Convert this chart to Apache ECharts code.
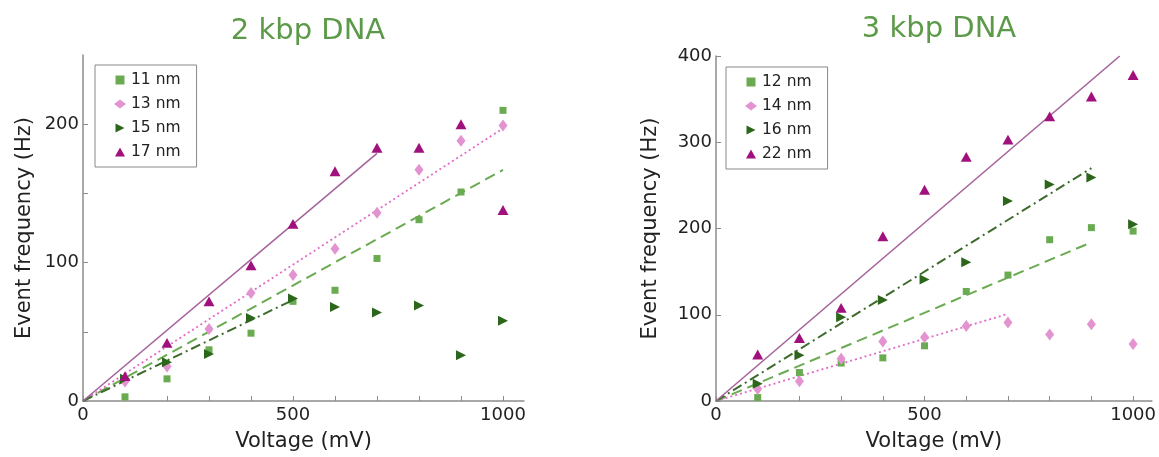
<!DOCTYPE html>
<html>
<head>
<meta charset="utf-8">
<script src="https://cdn.jsdelivr.net/npm/echarts@6/dist/echarts.min.js"></script>
<style>
html,body{margin:0;padding:0;background:#fff;}
#chart{width:1159px;height:457px;}
</style>
</head>
<body>
<div id="chart"></div>
<script>
// ---- Data ----
const voltages = [100, 200, 300, 400, 500, 600, 700, 800, 900, 1000];

// 2 kbp DNA
const kbp2_11nm = [3, 16, 37, 49, 72, 80, 103, 131, 151, 210];
const kbp2_13nm = [14, 25, 52, 78, 91, 110, 136, 167, 188, 199];
const kbp2_15nm = [16, 28, 34, 60, 74, 68, 64, 69, 33, 58];
const kbp2_17nm = [18, 42, 72, 98, 128, 166, 183, 183, 200, 138];
// fitted lines from origin
const kbp2_fit_11nm = [[0, 0], [1000, 167]];
const kbp2_fit_13nm = [[0, 0], [1000, 197]];
const kbp2_fit_15nm = [[0, 0], [500, 73]];
const kbp2_fit_17nm = [[0, 0], [700, 179]];

// 3 kbp DNA
const kbp3_12nm = [4, 33, 44, 50, 64, 127, 146, 187, 201, 197];
const kbp3_14nm = [14, 23, 49, 69, 74, 87, 91, 77, 89, 66];
const kbp3_16nm = [20, 53, 97, 117, 141, 161, 232, 251, 259, 205];
const kbp3_22nm = [54, 73, 108, 191, 245, 283, 303, 330, 353, 378];
const kbp3_fit_12nm = [[0, 0], [900, 184]];
const kbp3_fit_14nm = [[0, 0], [700, 101]];
const kbp3_fit_16nm = [[0, 0], [900, 270]];
const kbp3_fit_22nm = [[0, 0], [968, 400]];

const titles = ['2 kbp DNA', '3 kbp DNA'];
const legend2 = ['11 nm', '13 nm', '15 nm', '17 nm'];
const legend3 = ['12 nm', '14 nm', '16 nm', '22 nm'];
const xLabelTicks = [0, 500, 1000];
const xMinorTicks = [0, 100, 200, 300, 400, 500, 600, 700, 800, 900, 1000];
const y2LabelTicks = [0, 100, 200];
const y2Ticks = [0, 50, 100, 150, 200];
const y3Ticks = [0, 100, 200, 300, 400];

// ---- Styles ----
const C_SQ = '#6aab52';
const C_DI = '#e393d0';
const C_RT = '#2b661b';
const C_TR = '#a1117d';
const C_SOLID = '#a5639c';
const C_DOT = '#e06cc6';
const C_DASH = '#6aab52';
const C_DASHDOT = '#3c6b2c';
const RIGHT_TRI = 'path://M0,0 L10,5 L0,10 Z';
const UP_TRI = 'path://M5,0 L10,9 L0,9 Z';

const pts = arr => arr.map((v, i) => [voltages[i], v]);
const plain = v => String(v);

function xAxis(gridIndex, max) {
  return {
    type: 'value', gridIndex, min: 0, max,
    name: 'Voltage (mV)', nameLocation: 'middle', nameGap: 30,
    nameTextStyle: {fontFamily: 'DejaVu Sans', fontSize: 21, color: '#222'},
    axisLine: {show: true, lineStyle: {color: '#8c8c8c', width: 1.5}},
    axisTick: {show: true, inside: true, length: 5, customValues: xMinorTicks, lineStyle: {color: '#8c8c8c'}},
    axisLabel: {customValues: xLabelTicks, formatter: plain, fontFamily: 'DejaVu Sans', fontSize: 18, color: '#222', margin: 5},
    splitLine: {show: false}
  };
}
function yAxis(gridIndex, max, ticks, labels, gap) {
  return {
    type: 'value', gridIndex, min: 0, max,
    name: 'Event frequency (Hz)', nameLocation: 'middle', nameGap: gap, nameRotate: 90,
    nameTextStyle: {fontFamily: 'DejaVu Sans', fontSize: 21, color: '#222'},
    axisLine: {show: true, lineStyle: {color: '#8c8c8c', width: 1.5}},
    axisTick: {show: true, inside: true, length: 5, customValues: ticks, lineStyle: {color: '#8c8c8c'}},
    axisLabel: {customValues: labels, formatter: plain, fontFamily: 'DejaVu Sans', fontSize: 18, color: '#222', margin: 4},
    splitLine: {show: false}
  };
}
function scatter(name, data, idx, symbol, size, color) {
  return {
    type: 'scatter', name, xAxisIndex: idx, yAxisIndex: idx,
    data: pts(data), symbol, symbolSize: size, symbolKeepAspect: true,
    itemStyle: {color, opacity: 1}, z: 3
  };
}
function fit(name, data, idx, color, type, width) {
  return {
    type: 'line', name, xAxisIndex: idx, yAxisIndex: idx,
    data, symbol: 'none', silent: true,
    lineStyle: {color, type, width}, z: 2
  };
}
function legend(names, left, top) {
  return {
    orient: 'vertical', left, top,
    data: [
      {name: names[0], icon: 'path://M0,0 L10,0 L10,10 L0,10 Z', itemStyle: {color: C_SQ}},
      {name: names[1], icon: 'diamond', itemStyle: {color: C_DI}},
      {name: names[2], icon: RIGHT_TRI, itemStyle: {color: C_RT}},
      {name: names[3], icon: UP_TRI, itemStyle: {color: C_TR}}
    ],
    borderColor: '#888', borderWidth: 1, borderRadius: 0,
    padding: [7, 16, 7, 19], itemGap: 8,
    itemWidth: 12, itemHeight: 9,
    textStyle: {fontFamily: 'DejaVu Sans', fontSize: 15.5, color: '#222', lineHeight: 15}
  };
}

const chart = echarts.init(document.getElementById('chart'));
chart.setOption({
  backgroundColor: '#fff',
  animation: false,
  title: [
    {text: titles[0], left: 303, top: 12, textAlign: 'center',
     textStyle: {fontFamily: 'DejaVu Sans', fontSize: 29, fontWeight: 'normal', color: '#5c9a4a'}},
    {text: titles[1], left: 934, top: 10, textAlign: 'center',
     textStyle: {fontFamily: 'DejaVu Sans', fontSize: 29, fontWeight: 'normal', color: '#5c9a4a'}}
  ],
  legend: [legend(legend2, 95, 65), legend(legend3, 726, 67)],
  grid: [
    {left: 83, top: 55, width: 441, height: 347},
    {left: 716, top: 56, width: 438, height: 348}
  ],
  xAxis: [xAxis(0, 1050), xAxis(1, 1045)],
  yAxis: [yAxis(0, 250, y2Ticks, y2LabelTicks, 48), yAxis(1, 400, y3Ticks, y3Ticks, 55)],
  series: [
    fit('fit 11', kbp2_fit_11nm, 0, C_DASH, [11, 6], 2),
    fit('fit 13', kbp2_fit_13nm, 0, C_DOT, [2, 3], 1.8),
    fit('fit 15', kbp2_fit_15nm, 0, C_DASHDOT, [10, 4, 2, 4], 2),
    fit('fit 17', kbp2_fit_17nm, 0, C_SOLID, 'solid', 1.6),
    scatter(legend2[0], kbp2_11nm, 0, 'rect', 7, C_SQ),
    scatter(legend2[1], kbp2_13nm, 0, 'diamond', [9, 12], C_DI),
    scatter(legend2[2], kbp2_15nm, 0, RIGHT_TRI, 10, C_RT),
    scatter(legend2[3], kbp2_17nm, 0, UP_TRI, 11, C_TR),

    fit('fit 12', kbp3_fit_12nm, 1, C_DASH, [11, 6], 2),
    fit('fit 14', kbp3_fit_14nm, 1, C_DOT, [2, 3], 1.8),
    fit('fit 16', kbp3_fit_16nm, 1, C_DASHDOT, [10, 4, 2, 4], 2),
    fit('fit 22', kbp3_fit_22nm, 1, C_SOLID, 'solid', 1.6),
    scatter(legend3[0], kbp3_12nm, 1, 'rect', 7, C_SQ),
    scatter(legend3[1], kbp3_14nm, 1, 'diamond', [9, 12], C_DI),
    scatter(legend3[2], kbp3_16nm, 1, RIGHT_TRI, 10, C_RT),
    scatter(legend3[3], kbp3_22nm, 1, UP_TRI, 11, C_TR)
  ]
});
</script>
</body>
</html>
